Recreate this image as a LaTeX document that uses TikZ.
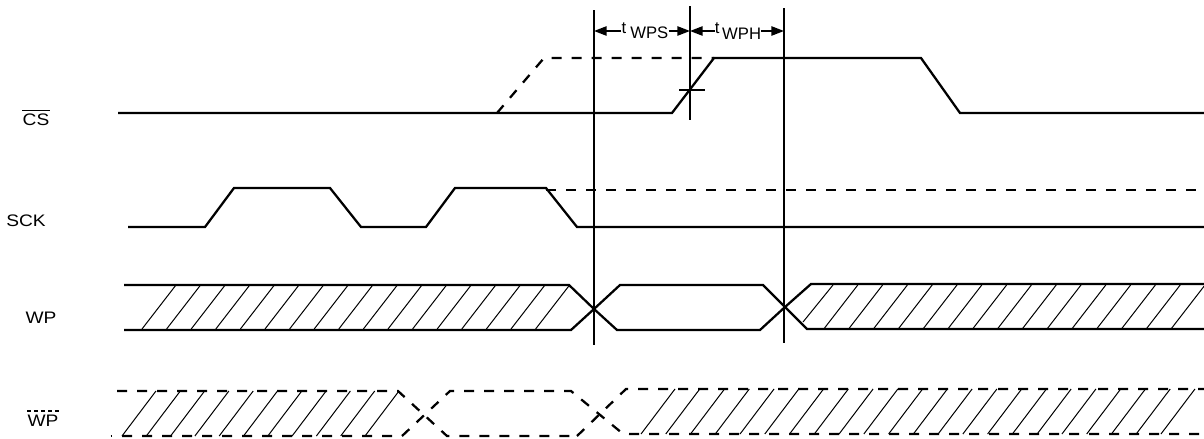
\documentclass[tikz,border=0pt]{standalone}
\usepackage{fontspec}
\setmainfont{Liberation Sans}
\newfontfamily\signalfont[FakeStretch=1.15]{Liberation Sans}
\usetikzlibrary{arrows.meta}
\tikzset{
    wave/.style={line width=1.7pt},
    dashwave/.style={line width=1.7pt, dash pattern=on 7.5pt off 7.5pt},
    hatch/.style={line width=0.75pt},
    marker/.style={line width=1.2pt},
    dim/.style={line width=1.2pt, >={Triangle[length=9.5pt,width=7pt]}},
    signal/.style={inner sep=0pt, font=\signalfont\fontsize{12.5pt}{14pt}\selectfont},
    timing/.style={inner sep=0pt, font=\fontsize{12.5pt}{14pt}\selectfont}
}
\begin{document}
\begin{tikzpicture}[x=0.75pt, y=-0.75pt]
    \useasboundingbox (0,0) rectangle (1204,439);

    % Signal names
    \node[signal] (cs) at (36,120) {CS};
    \node[signal] (sck) at (26,221) {SCK};
    \node[signal] (wp) at (41,318) {WP};
    \node[signal] (wpn) at (43,421) {WP};
    \draw[line width=0.8pt] ([yshift=2.5pt]cs.north west) -- ([yshift=2.5pt]cs.north east);
    \draw[line width=0.8pt, dash pattern=on 3pt off 2.2pt] ([yshift=3pt]wpn.north west) -- ([yshift=3pt]wpn.north east);

    % CS
    \draw[wave] (118,113) -- (672,113) -- (714,58) -- (921,58) -- (960,113) -- (1204,113);
    \draw[dashwave] (497,113) -- (544,58) -- (714,58);
    \draw[marker] (679,90) -- (705,90);

    % SCK
    \draw[wave] (128,227) -- (205,227) -- (234,188) -- (330,188) -- (361,227) -- (426,227)
        -- (455,188) -- (546,188) -- (577,227) -- (1204,227);
    \draw[dashwave] (546,190) -- (1204,190);

    % WP
    \draw[wave] (124,285) -- (569,285) -- (594,309) -- (617,330) -- (760,330) -- (785,307)
        -- (811,284) -- (1204,284);
    \draw[wave] (124,330) -- (571,330) -- (594,309) -- (620,285) -- (763,285) -- (785,307)
        -- (807,329) -- (1204,329);
    \foreach \n in {0,...,16}
        \draw[hatch] ({142+24.6*\n},329) -- ({176+24.6*\n},285);
    \draw[hatch] (803,322) -- (833,285);
    \foreach \n in {1,...,15}
        \draw[hatch] ({799+24.8*\n},329) -- ({833+24.8*\n},285);

    % WP bar
    \draw[dashwave] (117,391) -- (398,391) -- (447,436) -- (577,436);
    \draw[dashwave] (122,436) -- (402,436) -- (450,391) -- (571,391) -- (622,433) -- (630,434) -- (1204,434);
    \draw[dashwave] (577,436) -- (626,389) -- (1204,389);
    \draw[line width=1.3pt] (110.5,436) -- (112,436);
    \foreach \n in {0,...,10}
        \draw[hatch] ({122+24.3*\n},436) -- ({156+24.3*\n},391);
    \foreach \n in {0,...,21}
        \draw[hatch] ({641+24.76*\n},434) -- ({675+24.76*\n},389);

    % Timing lines
    \coordinate (wpstop) at (594,10);
    \coordinate (wpsbot) at (594,345);
    \coordinate (midtop) at (690,6);
    \coordinate (midbot) at (690,120);
    \coordinate (wphtop) at (784,8);
    \coordinate (wphbot) at (784,343);
    \draw[marker] (wpstop) -- (wpsbot);
    \draw[marker] (midtop) -- (midbot);
    \draw[marker] (wphtop) -- (wphbot);

    % Timing labels
    \node[timing] (twps) at (645,31) {t\kern3pt\raisebox{-4pt}{WPS}};
    \node[timing] (twph) at (738,31) {t\kern2pt\raisebox{-4pt}{WPH}};
    \coordinate (wpsl) at (594,31);
    \coordinate (wpsr) at (690,31);
    \coordinate (wphl) at (690,31);
    \coordinate (wphr) at (784,31);
    \draw[dim, ->] (twps) -- (wpsl);
    \draw[dim, ->] (twps) -- (wpsr);
    \draw[dim, ->] (twph) -- (wphl);
    \draw[dim, ->] (twph) -- (wphr);
\end{tikzpicture}
\end{document}
